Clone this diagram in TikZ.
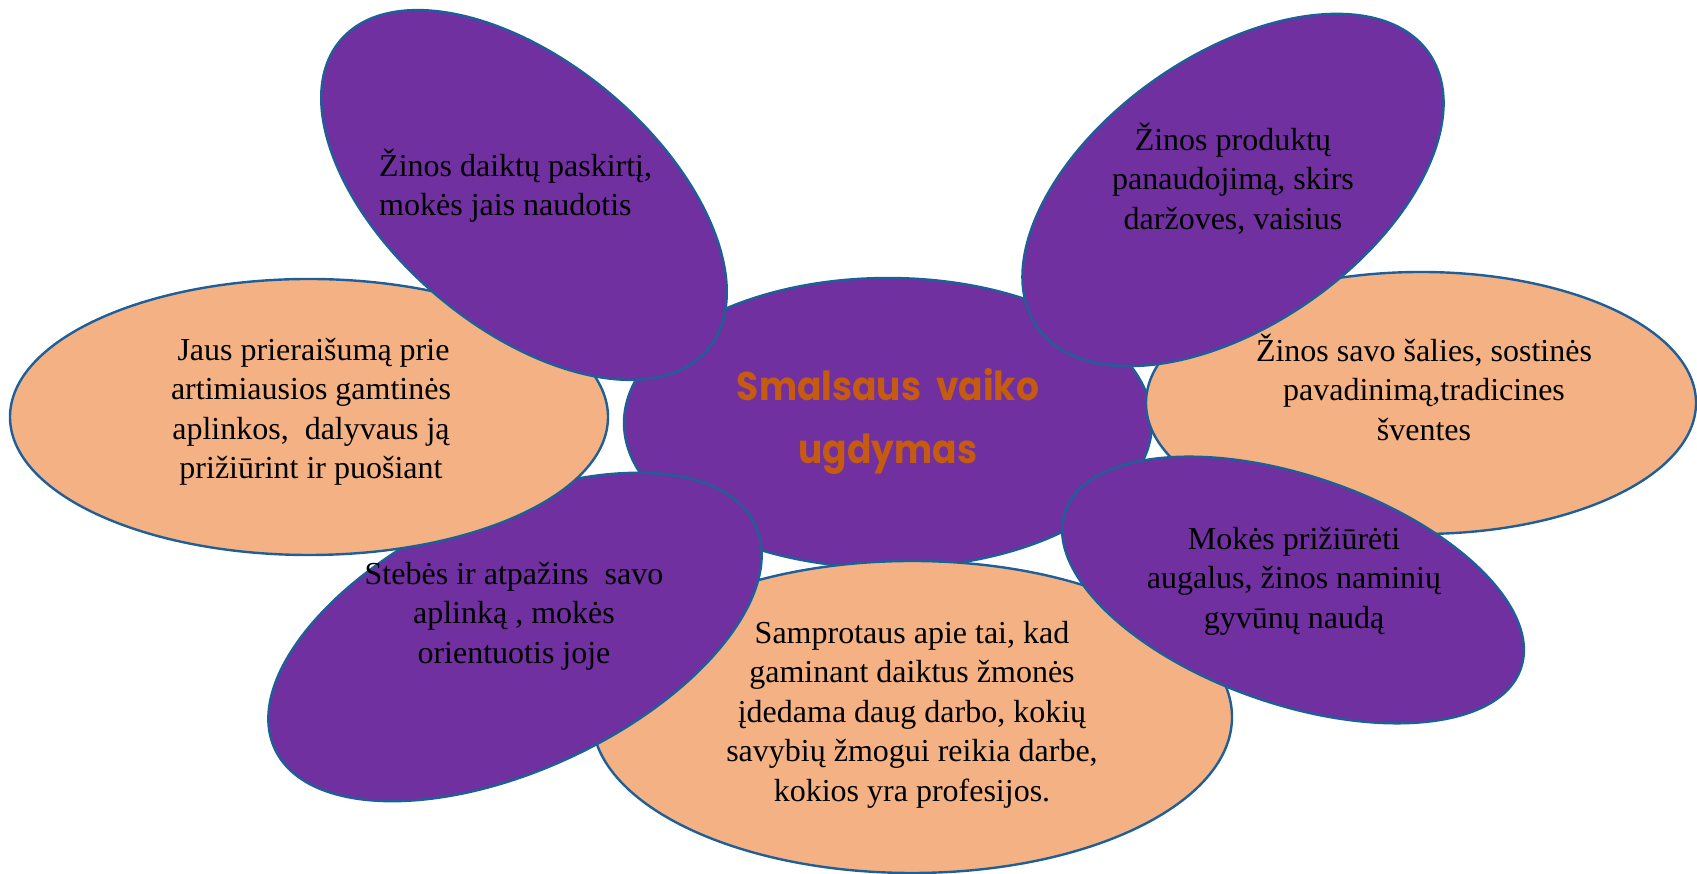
\documentclass[tikz,border=0pt]{standalone}
\usepackage{fontspec}
\setmainfont{Liberation Serif}
\newfontfamily\titlefont[FakeStretch=0.9]{Poppins}
\usetikzlibrary{shapes.geometric}
\definecolor{petal}{HTML}{7030A0}
\definecolor{peach}{HTML}{F4B183}
\definecolor{edgeblue}{HTML}{1F5F99}
\definecolor{titleorange}{HTML}{C55A11}
\newcommand\bodyfont{\fontsize{32}{39.5}\selectfont}
\newcommand\ls{\rule[-9.5pt]{0pt}{39.5pt}}
\newcommand\tls{\rule[-18pt]{0pt}{63pt}}
\begin{document}
\begin{tikzpicture}[x=1pt,y=1pt,
  blob/.style={ellipse, draw=edgeblue, line width=2.4pt, inner sep=0pt},
  purpleblob/.style={blob, fill=petal},
  peachblob/.style={blob, fill=peach},
  txt/.style={anchor=north, align=center, inner sep=0pt, font=\bodyfont, text=black},
  titletxt/.style={anchor=north, align=center, inner sep=0pt, text=titleorange,
    font=\titlefont\bfseries\fontsize{40}{63}\selectfont}]
\useasboundingbox (0,0) rectangle (1697,874);
% ellipses, back to front
\node[purpleblob, minimum width=528, minimum height=290] (c) at (888,451) {};
\node[peachblob, minimum width=640, minimum height=312] (pb) at (912,157) {};
\node[peachblob, minimum width=550, minimum height=262] (pr) at (1421,471) {};
\node[purpleblob, minimum width=530, minimum height=265, rotate=25] (bl) at (515,237) {};
\node[peachblob, minimum width=598, minimum height=276] (pl) at (309,457) {};
\node[purpleblob, minimum width=480, minimum height=266, rotate=-40] (tl) at (524,679) {};
\node[purpleblob, minimum width=478, minimum height=270, rotate=35] (tr) at (1233,684) {};
\node[purpleblob, minimum width=482, minimum height=228, rotate=-19] (br) at (1293,284) {};
% texts
\node[titletxt] (ct) at (888,519) {\tls Smalsaus\ \ vaiko\\\tls ugdymas};
\node[txt, anchor=north west, align=left] (tlt) at (379,728) {\ls Žinos daiktų paskirtį,\\\ls mokės jais naudotis};
\node[txt] (trt) at (1233,754) {\ls Žinos produktų\\\ls panaudojimą, skirs\\\ls daržoves, vaisius};
\node[txt] (plt) at (311,544) {\ls\hspace*{5pt}Jaus prieraišumą prie\\\ls artimiausios gamtinės\\\ls aplinkos,\ \ dalyvaus ją\\\ls prižiūrint ir puošiant};
\node[txt] (prt) at (1424,543) {\ls Žinos savo šalies, sostinės\\\ls pavadinimą,tradicines\\\ls šventes};
\node[txt] (pbt) at (912,261) {\ls Samprotaus apie tai, kad\\\ls gaminant daiktus žmonės\\\ls įdedama daug darbo, kokių\\\ls savybių žmogui reikia darbe,\\\ls kokios yra profesijos.};
\node[txt] (blt) at (514,320) {\ls Stebės ir atpažins\ \ savo\\\ls aplinką , mokės\\\ls orientuotis joje};
\node[txt] (brt) at (1294,355) {\ls Mokės prižiūrėti\\\ls augalus, žinos naminių\\\ls gyvūnų naudą};
\end{tikzpicture}
\end{document}
